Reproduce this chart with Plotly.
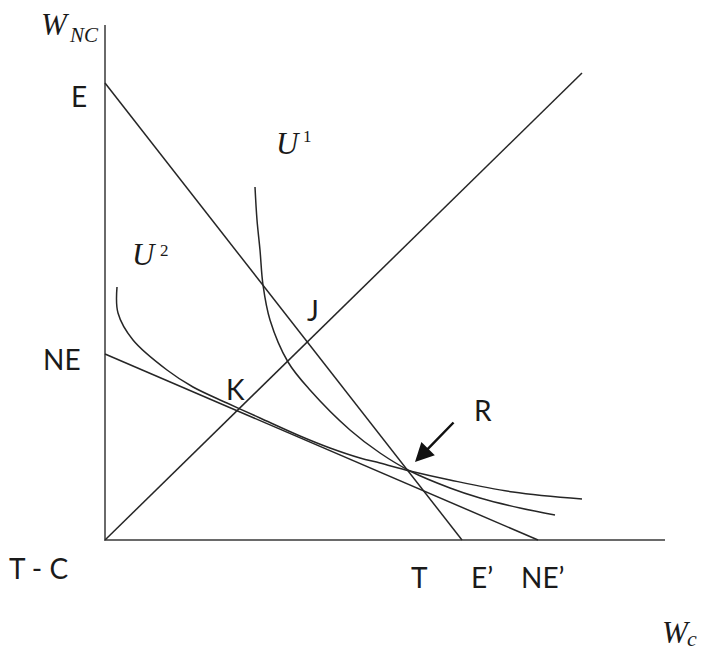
import plotly.graph_objects as go

# axis lengths (drawing units, origin at T - C)
X_AXIS_LEN = 560
Y_AXIS_LEN = 515

# budget lines: (x intercept, y intercept)
E_LINE = (357, 457)     # E  -> E'
NE_LINE = (433, 186)    # NE -> NE'

# 45 degree ray end
RAY_X = [0, 477]
RAY_Y = [0, 467]

# indifference curves
U1_X = [150, 152, 155, 158, 165, 183, 205, 245, 275, 305, 345, 375, 415, 450]
U1_Y = [353, 320, 290, 255, 220, 178, 150, 110, 87, 69, 52, 42, 32, 25]
U2_X = [12, 13, 28, 62, 88, 122, 155, 195, 225, 255, 275, 305, 345, 408, 477]
U2_Y = [253, 227, 200, 170, 153, 137, 122, 104, 92, 82, 77, 69, 60, 48, 41]

# plain labels: text, x, y
LABELS = [
    ("E", -26, 444),
    ("NE", -43, 181),
    ("T - C", -67, -28),
    ("T", 314, -37),
    ("E\u2019", 377, -37),
    ("NE\u2019", 438, -37),
    ("J", 208, 230),
    ("K", 130, 151),
    ("R", 378, 130),
]

# math labels, split in pieces: text, x, y, size
MATH_LABELS = [
    ("<i>W</i>", -50, 516, 31),
    ("<i>NC</i>", -21, 505, 21),
    ("<i>W</i>", 571, -92, 31),
    ("<i>c</i>", 587, -98, 22),
    ("<i>U</i>", 183, 397, 31),
    ("1", 202, 404, 17),
    ("<i>U</i>", 39, 286, 31),
    ("2", 59, 290, 17),
]

LINE_COLOR = "#262626"
AXIS_COLOR = "#6a6a6a"

fig = go.Figure()

# axes
fig.add_trace(go.Scatter(x=[0, 0, X_AXIS_LEN], y=[Y_AXIS_LEN, 0, 0], mode="lines",
                         line=dict(color=AXIS_COLOR, width=2), hoverinfo="skip"))

for ix, iy in [E_LINE, NE_LINE]:
    fig.add_trace(go.Scatter(x=[0, ix], y=[iy, 0], mode="lines",
                             line=dict(color=LINE_COLOR, width=1.5), hoverinfo="skip"))

fig.add_trace(go.Scatter(x=RAY_X, y=RAY_Y, mode="lines",
                         line=dict(color=LINE_COLOR, width=1.5), hoverinfo="skip"))

for cx, cy in [(U1_X, U1_Y), (U2_X, U2_Y)]:
    fig.add_trace(go.Scatter(x=cx, y=cy, mode="lines",
                             line=dict(color=LINE_COLOR, width=1.5, shape="spline", smoothing=1.0),
                             hoverinfo="skip"))

for text, x, y in LABELS:
    fig.add_annotation(x=x, y=y, text=text, showarrow=False,
                       font=dict(family="Lato", size=28, color="#1a1a1a"))

for text, x, y, size in MATH_LABELS:
    fig.add_annotation(x=x, y=y, text=text, showarrow=False,
                       font=dict(family="Liberation Serif", size=size, color="#1a1a1a"))

# arrow pointing at R
fig.add_annotation(x=310, y=78, ax=350, ay=119, axref="x", ayref="y", text="",
                   showarrow=True, arrowhead=2, arrowsize=1.5, arrowwidth=2.5,
                   arrowcolor="#111111")

# page body has an 8px margin, so keep the figure inside the window
fig.update_layout(
    width=694, height=641,
    margin=dict(l=0, r=0, t=0, b=0),
    plot_bgcolor="white", paper_bgcolor="white",
    showlegend=False,
    xaxis=dict(range=[-97, 597], visible=False, fixedrange=True),
    yaxis=dict(range=[-109, 532], visible=False, fixedrange=True),
)

fig.write_html("out.html")
